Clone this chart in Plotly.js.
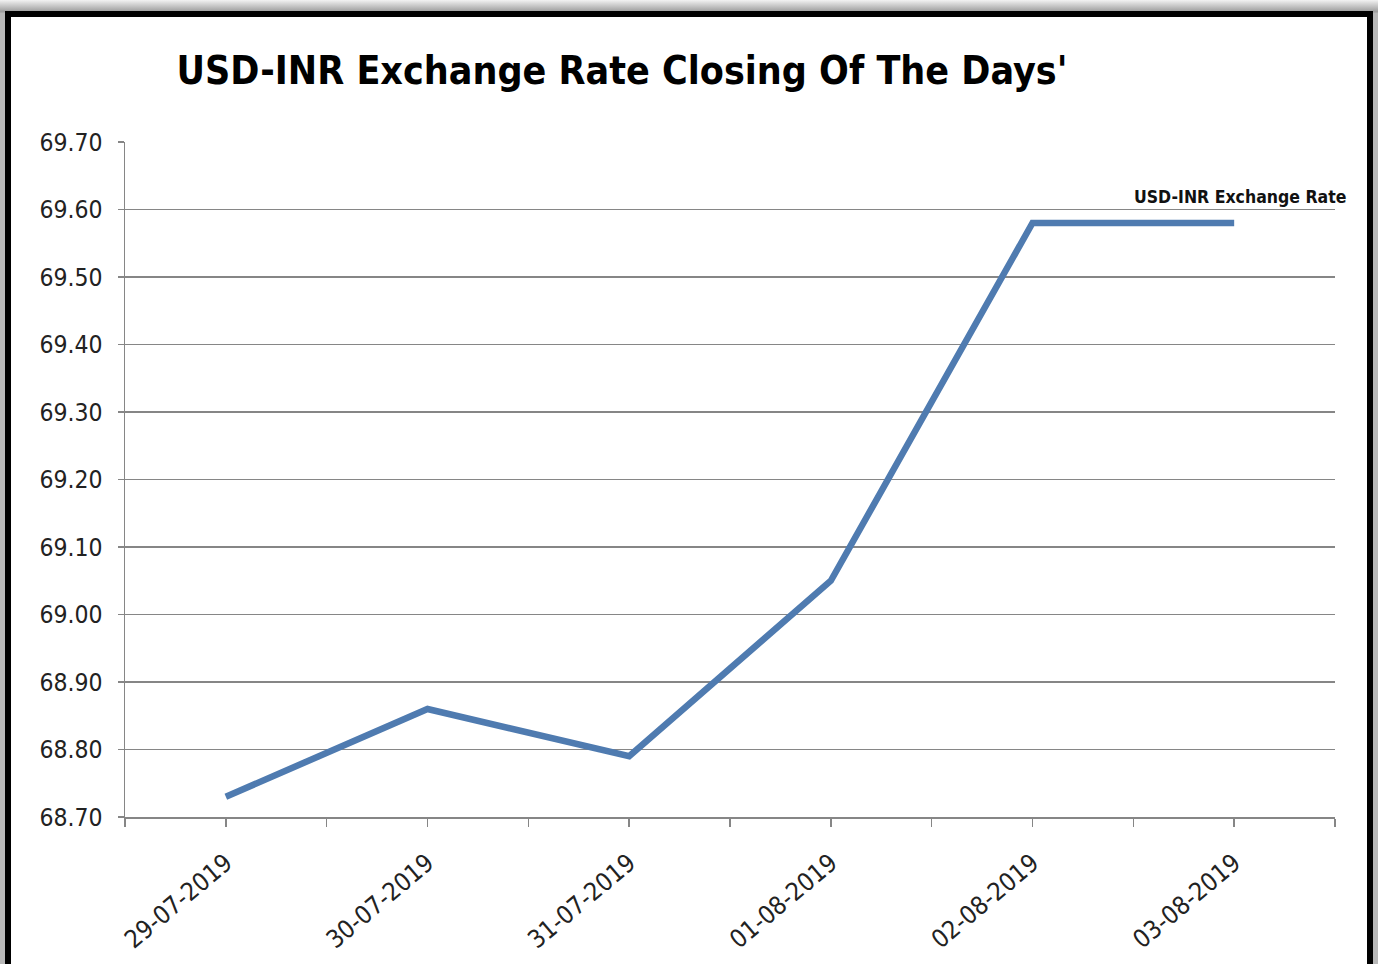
<!DOCTYPE html>
<html>
<head>
<meta charset="utf-8">
<script src="https://cdn.plot.ly/plotly-3.0.1.min.js"></script>
<style>
  html, body { margin: 0; padding: 0; width: 1378px; height: 964px; overflow: hidden; }
  body { background: linear-gradient(to bottom, #f2f2f2 0px, #9a9a9a 12px, #b8b8b8 13px); position: relative; }
  #frame { position: absolute; left: 5px; top: 11px; width: 1356px; height: 960px;
           border: 6px solid #000; border-bottom: none; background: #fff; }
  #chart { position: absolute; left: 0; top: 0; width: 1378px; height: 964px; }
</style>
</head>
<body>
<div id="frame"></div>
<div id="chart"></div>
<script>
const categories = ['29-07-2019', '30-07-2019', '31-07-2019', '01-08-2019', '02-08-2019', '03-08-2019'];
const rates = [68.73, 68.86, 68.79, 69.05, 69.58, 69.58];
const yTicks = [68.70, 68.80, 68.90, 69.00, 69.10, 69.20, 69.30, 69.40, 69.50, 69.60, 69.70];
const seriesName = 'USD-INR Exchange Rate';
const chartTitle = "USD-INR Exchange Rate Closing Of The Days'";

const FONT = '"DejaVu Sans Condensed", "Liberation Sans Narrow", sans-serif';

const xIdx = categories.map((_, i) => i);
// tick marks at category centres and between categories (Excel style)
const tickVals = [];
const tickText = [];
for (let i = -0.5; i <= categories.length - 0.5 + 1e-9; i += 0.5) {
  tickVals.push(i);
  const k = Math.round(i);
  tickText.push(Math.abs(i - k) < 1e-9 && k >= 0 && k < categories.length ? categories[k] : '');
}

const trace = {
  x: xIdx,
  y: rates,
  type: 'scatter',
  mode: 'lines',
  name: seriesName,
  line: { color: '#4f7bb0', width: 6.5 },
  hoverinfo: 'skip'
};

const layout = {
  width: 1378,
  height: 964,
  paper_bgcolor: 'rgba(0,0,0,0)',
  plot_bgcolor: 'rgba(0,0,0,0)',
  margin: { l: 125, r: 43, t: 142, b: 147 },
  showlegend: false,
  title: {
    text: '<b>' + chartTitle + '</b>',
    font: { family: FONT, size: 39, color: '#000' },
    x: 622 / 1378,
    xanchor: 'center',
    xref: 'container',
    y: 1 - 70 / 964,
    yanchor: 'middle',
    yref: 'container'
  },
  xaxis: {
    type: 'linear',
    range: [-0.5, categories.length - 0.5],
    tickmode: 'array',
    tickvals: tickVals,
    ticktext: tickText,
    tickangle: -40,
    ticks: 'outside',
    ticklen: 8,
    tickwidth: 1.5,
    tickcolor: '#868686',
    showline: true,
    linecolor: '#868686',
    linewidth: 1.5,
    showgrid: false,
    zeroline: false,
    ticklabelstandoff: 12,
    tickfont: { family: FONT, size: 25, color: '#222' },
    fixedrange: true
  },
  yaxis: {
    range: [68.7, 69.7],
    tickmode: 'array',
    tickvals: yTicks,
    ticktext: yTicks.map(v => v.toFixed(2)),
    ticks: 'outside',
    ticklen: 6,
    tickwidth: 1.5,
    tickcolor: '#868686',
    showline: true,
    linecolor: '#868686',
    linewidth: 1.5,
    showgrid: true,
    gridcolor: '#868686',
    gridwidth: 1.5,
    zeroline: false,
    ticklabelstandoff: 10,
    tickfont: { family: FONT, size: 24.5, color: '#222' },
    fixedrange: true
  },
  annotations: [{
    x: xIdx[xIdx.length - 1],
    y: rates[rates.length - 1],
    xref: 'x',
    yref: 'y',
    text: '<b>' + seriesName + '</b>',
    showarrow: false,
    xanchor: 'center',
    yanchor: 'middle',
    xshift: 6,
    yshift: 26,
    font: { family: FONT, size: 17.5, color: '#111' }
  }]
};

Plotly.newPlot('chart', [trace], layout, { displayModeBar: false, staticPlot: true });
</script>
</body>
</html>
